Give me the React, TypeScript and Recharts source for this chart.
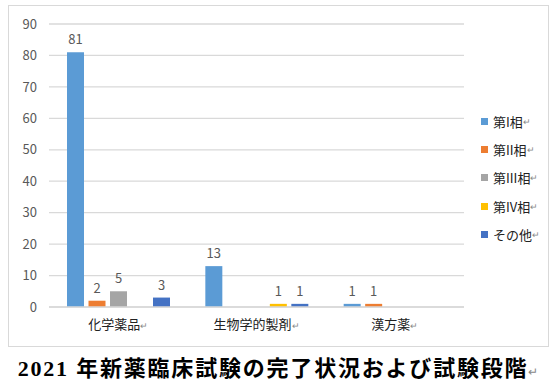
import { BarChart, Bar, XAxis, YAxis, CartesianGrid, LabelList } from "recharts";

const categories = ["化学薬品", "生物学的製剤", "漢方薬"];
const phase1 = [81, 13, 1];
const phase2 = [2, null, 1];
const phase3 = [5, null, null];
const phase4 = [null, 1, null];
const others = [3, 1, null];
const yTicks = [0, 10, 20, 30, 40, 50, 60, 70, 80, 90];

const series = [
  { key: "p1", name: "第I相", color: "#5B9BD5", values: phase1 },
  { key: "p2", name: "第II相", color: "#ED7D31", values: phase2 },
  { key: "p3", name: "第III相", color: "#A5A5A5", values: phase3 },
  { key: "p4", name: "第IV相", color: "#FFC000", values: phase4 },
  { key: "p5", name: "その他", color: "#4472C4", values: others },
];

const data = categories.map((c, i) => {
  const row: Record<string, string | number | null> = { name: c };
  series.forEach((s) => (row[s.key] = s.values[i]));
  return row;
});

const font = "'Noto Sans CJK JP', 'Open Sans', sans-serif";

function CatTick({ x, y, payload }: any) {
  return (
    <text x={x} y={y + 14} textAnchor="middle" fontSize={13} fill="#222" fontFamily={font}>
      {payload.value}
      <tspan fontSize={9} fill="#888">↵</tspan>
    </text>
  );
}

function SideLegend() {
  return (
    <div style={{ position: "absolute", left: 481, top: 107, fontFamily: font, fontSize: 13, color: "#222" }}>
      {series.map((s) => (
        <div key={s.key} style={{ display: "flex", alignItems: "center", height: 28.4 }}>
          <span style={{ width: 7, height: 7, background: s.color, marginRight: 5 }} />
          <span>{s.name}</span>
          <span style={{ fontSize: 9, color: "#888" }}>↵</span>
        </div>
      ))}
    </div>
  );
}

export default function App() {
  return (
    <div style={{ position: "absolute", left: 0, top: 0, width: 556, height: 392, background: "#fff" }}>
      <div style={{ position: "absolute", left: 8, top: 5, width: 539, height: 340, border: "1px solid #d9d9d9" }}>
        <BarChart
          width={539}
          height={340}
          data={data}
          margin={{ top: 18, right: 84, bottom: 0, left: 0 }}
          barGap={4.5}
        >
          <CartesianGrid vertical={false} stroke="#d9d9d9" strokeWidth={1.3} />
          <XAxis dataKey="name" tick={<CatTick />} tickLine={false} axisLine={{ stroke: "#d9d9d9", strokeWidth: 1.3 }} interval={0} height={39} />
          <YAxis
            domain={[0, 90]}
            ticks={yTicks}
            width={40}
            tickLine={false}
            axisLine={false}
            tick={{ fontSize: 13, fill: "#595959", fontFamily: font }}
            tickMargin={6}
          />
          {series.map((s) => (
            <Bar key={s.key} dataKey={s.key} name={s.name} fill={s.color} barSize={17} isAnimationActive={false}>
              <LabelList dataKey={s.key} position="top" offset={8} fontSize={13} fill="#595959" fontFamily={font} />
            </Bar>
          ))}
        </BarChart>
      </div>
      <SideLegend />
      <div
        style={{
          position: "absolute",
          left: 0,
          top: 350,
          width: 556,
          textAlign: "center",
          fontFamily: "'Liberation Serif', 'Noto Sans CJK JP', serif",
          fontWeight: "bold",
          fontSize: 22,
          letterSpacing: 1.8,
          color: "#000",
          whiteSpace: "nowrap",
        }}
      >
        2021 年新薬臨床試験の完了状況および試験段階
        <span style={{ fontSize: 12, color: "#888", fontWeight: "normal", letterSpacing: 0 }}>↵</span>
      </div>
    </div>
  );
}
